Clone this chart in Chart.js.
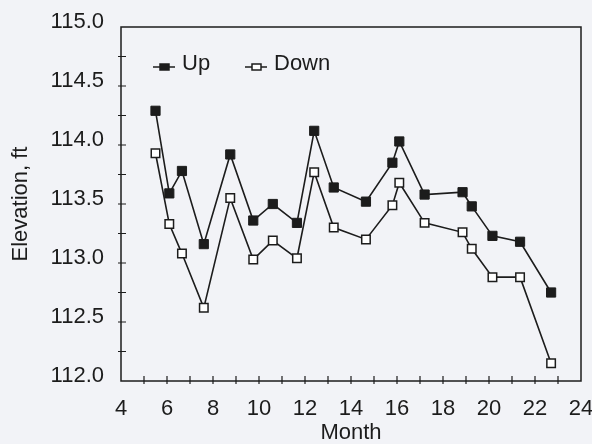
<!DOCTYPE html>
<html>
<head>
<meta charset="utf-8">
<script src="https://cdn.jsdelivr.net/npm/chart.js@4"></script>
<style>
html, body { margin: 0; padding: 0; background: #f2f3f7; }
#wrap { width: 592px; height: 444px; }
</style>
</head>
<body>
<div id="wrap"><canvas id="elevChart" width="592" height="444"></canvas></div>
<script>
// Survey months and water elevation (ft) upstream / downstream
const months = [5.5, 6.1, 6.65, 7.6, 8.75, 9.75, 10.6, 11.65, 12.4, 13.25, 14.65, 15.8, 16.1, 17.2, 18.85, 19.25, 20.15, 21.35, 22.7];
const upElev = [114.29, 113.59, 113.78, 113.16, 113.92, 113.36, 113.50, 113.34, 114.12, 113.64, 113.52, 113.85, 114.03, 113.58, 113.60, 113.48, 113.23, 113.18, 112.75];
const downElev = [113.93, 113.33, 113.08, 112.62, 113.55, 113.03, 113.19, 113.04, 113.77, 113.30, 113.20, 113.49, 113.68, 113.34, 113.26, 113.12, 112.88, 112.88, 112.15];
const seriesNames = ['Up', 'Down'];

const ink = '#1c1c1c';
const font = { family: '"Liberation Sans", Arial, sans-serif', size: 22 };

function toPoints(xs, ys) {
    return xs.map((x, i) => ({ x: x, y: ys[i] }));
}

// box around the plot plus tick marks that cross the axes
const frameTicks = {
    id: 'frameTicks',
    afterDraw(chart) {
        const { ctx, chartArea: a, scales } = chart;
        ctx.save();
        ctx.strokeStyle = ink;
        ctx.lineWidth = 1.5;
        ctx.strokeRect(a.left, a.top, a.right - a.left, a.bottom - a.top);
        ctx.lineWidth = 1.2;
        ctx.beginPath();
        for (let v = 5; v < 24; v++) {
            const px = scales.x.getPixelForValue(v);
            ctx.moveTo(px, a.bottom - 5);
            ctx.lineTo(px, a.bottom + 3);
        }
        for (let v = 112.25; v < 115; v += 0.25) {
            const py = scales.y.getPixelForValue(v);
            ctx.moveTo(a.left - 3, py);
            ctx.lineTo(a.left + 5, py);
        }
        ctx.stroke();
        ctx.restore();
    }
};

// legend drawn inside the plot, top-left
const innerLegend = {
    id: 'innerLegend',
    afterDraw(chart) {
        const ctx = chart.ctx;
        const spots = [{ x: 153, y: 67 }, { x: 245, y: 67 }];
        ctx.save();
        chart.data.datasets.forEach((ds, i) => {
            const s = spots[i];
            ctx.strokeStyle = ink;
            ctx.lineWidth = 1.5;
            ctx.beginPath();
            ctx.moveTo(s.x, s.y);
            ctx.lineTo(s.x + 22, s.y);
            ctx.stroke();
            ctx.fillStyle = ds.pointBackgroundColor;
            ctx.fillRect(s.x + 7, s.y - 3, 9, 6);
            ctx.strokeRect(s.x + 7, s.y - 3, 9, 6);
            ctx.fillStyle = ink;
            ctx.font = '22px "Liberation Sans", Arial, sans-serif';
            ctx.textBaseline = 'middle';
            ctx.fillText(ds.label, s.x + 29, s.y - 3);
        });
        ctx.restore();
    }
};

const config = {
    type: 'line',
    data: {
        datasets: [{
            label: seriesNames[0],
            data: toPoints(months, upElev),
            borderColor: ink,
            borderWidth: 1.6,
            pointStyle: 'rect',
            pointRadius: 6.5,
            pointBackgroundColor: ink,
            pointBorderColor: ink,
            pointBorderWidth: 1,
            tension: 0
        }, {
            label: seriesNames[1],
            data: toPoints(months, downElev),
            borderColor: ink,
            borderWidth: 1.6,
            pointStyle: 'rect',
            pointRadius: 6,
            pointBackgroundColor: '#ffffff',
            pointBorderColor: ink,
            pointBorderWidth: 1.5,
            tension: 0
        }]
    },
    options: {
        responsive: false,
        animation: false,
        layout: { padding: { top: 27, right: 11, left: 0, bottom: 0 } },
        plugins: {
            legend: { display: false },
            tooltip: { enabled: false }
        },
        scales: {
            x: {
                type: 'linear',
                min: 4,
                max: 24,
                grid: { display: false, drawTicks: false },
                border: { display: false },
                ticks: {
                    stepSize: 1,
                    autoSkip: false,
                    maxRotation: 0,
                    padding: 15,
                    color: ink,
                    font: font,
                    callback: v => (v % 2 === 0 ? String(v) : '')
                },
                title: { display: true, text: 'Month', color: ink, font: font, padding: { top: 0, bottom: -2 } },
                afterFit: s => {
                    s.height = 63;
                    s.paddingLeft = 0;
                    s.paddingRight = 0;
                }
            },
            y: {
                min: 112,
                max: 115,
                grid: { display: false, drawTicks: false },
                border: { display: false },
                ticks: {
                    stepSize: 0.25,
                    autoSkip: false,
                    padding: 17,
                    labelOffset: -5,
                    color: ink,
                    font: font,
                    callback: v => (Math.abs(v * 2 - Math.round(v * 2)) < 1e-6 ? v.toFixed(1) : '')
                },
                title: { display: true, text: 'Elevation, ft', color: ink, font: font, padding: { top: 8, bottom: 0 } },
                afterFit: s => {
                    s.width = 121;
                    s.paddingTop = 0;
                    s.paddingBottom = 0;
                }
            }
        }
    },
    plugins: [frameTicks, innerLegend]
};

window.onload = function() {
    const ctx = document.getElementById('elevChart').getContext('2d');
    new Chart(ctx, config);
};
</script>
</body>
</html>
